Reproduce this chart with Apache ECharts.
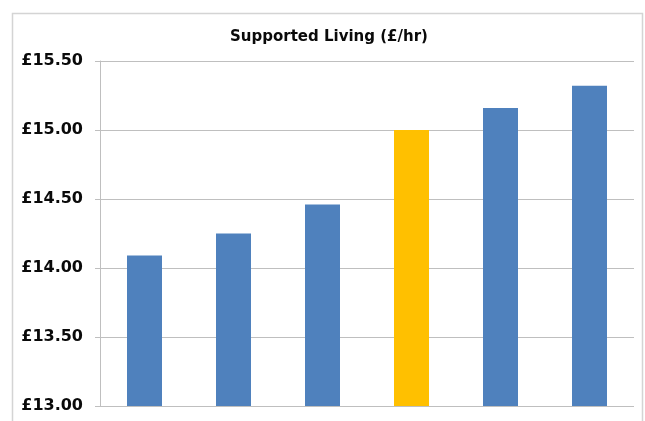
<!DOCTYPE html>
<html><head><meta charset="utf-8">
<script src="https://cdn.jsdelivr.net/npm/echarts@6/dist/echarts.min.js"></script>
<style>html,body{margin:0;padding:0;background:#fff}#c{width:645px;height:421px}</style>
</head><body><div id="c"></div>
<script>
const categories = ["1","2","3","4","5","6"];
const values = [14.09, 14.25, 14.46, 15.00, 15.16, 15.32];
const barColors = ["#4f81bd","#4f81bd","#4f81bd","#ffc000","#4f81bd","#4f81bd"];
const title = "Supported Living (£/hr)";

const chart = echarts.init(document.getElementById('c'));
chart.setOption({
  animation: false,
  backgroundColor: '#fff',
  title: { text: title, left: 324, textAlign: 'center', top: 25,
    textStyle: { fontFamily: 'DejaVu Sans', fontWeight: 'bold', fontSize: 15, color: '#0a0a0a' } },
  graphic: [{ type: 'rect', shape: { x: 12.5, y: 13.5, width: 630, height: 430 },
    style: { fill: 'none', stroke: '#d4d4d4', lineWidth: 1.5 }, silent: true }],
  grid: { left: 100, right: 11, top: 61, bottom: 15 },
  xAxis: { type: 'category', data: categories,
    axisLine: { show: false }, axisTick: { show: false }, axisLabel: { show: false } },
  yAxis: { type: 'value', min: 13, max: 15.5, interval: 0.5,
    axisLine: { show: true, lineStyle: { color: '#bfbfbf' } },
    axisTick: { show: true, length: 5, lineStyle: { color: '#bfbfbf' } },
    splitLine: { lineStyle: { color: '#bfbfbf', width: 1 } },
    axisLabel: { margin: 17, fontFamily: 'DejaVu Sans', fontWeight: 'bold', fontSize: 16, color: '#0a0a0a',
      formatter: v => '£' + v.toFixed(2) } },
  series: [{ type: 'bar', barWidth: 35,
    data: values.map((v, i) => ({ value: v, itemStyle: { color: barColors[i] } })) }]
});
</script></body></html>
